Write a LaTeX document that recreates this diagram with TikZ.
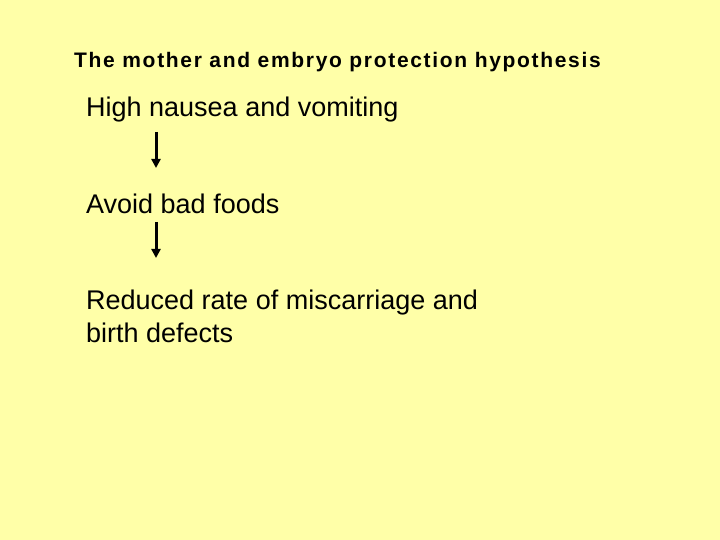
\documentclass[tikz,border=0pt]{standalone}
\usepackage{fontspec}
\setmainfont{Liberation Sans}
\usepackage{tikz}
\usetikzlibrary{arrows.meta}
\definecolor{slidebg}{HTML}{FFFFA8}
\tikzset{
	title/.style={anchor=base west, inner sep=0pt, font=\fontsize{21bp}{25bp}\selectfont\bfseries\addfontfeature{LetterSpace=8}},
	item/.style={anchor=base west, inner sep=0pt, align=left, font=\fontsize{27bp}{33bp}\selectfont},
	flow/.style={line width=3bp, -{Triangle[length=9bp,width=9bp]}}
}

\begin{document}
\begin{tikzpicture}[x=1bp, y=-1bp]
			\fill[slidebg] (0,0) rectangle (720,540);
			\useasboundingbox (0,0) rectangle (720,540);
			\node[title] (head) at (74,68) {The mother and embryo protection hypothesis};
			\node[item] (nausea) at (86,117) {High nausea and vomiting};
			\node[item] (avoid) at (86,214) {Avoid bad foods};
			% base anchor of a two-line node sits on its last line
			\node[item] (reduced) at (86,342) {Reduced rate of miscarriage and\\birth defects};
			\coordinate (a1) at (156,132);
			\coordinate (b1) at (156,168);
			\coordinate (a2) at (156,222);
			\coordinate (b2) at (156,258);
			\draw[flow] (a1) -- (b1);
			\draw[flow] (a2) -- (b2);
		\end{tikzpicture}
\end{document}
